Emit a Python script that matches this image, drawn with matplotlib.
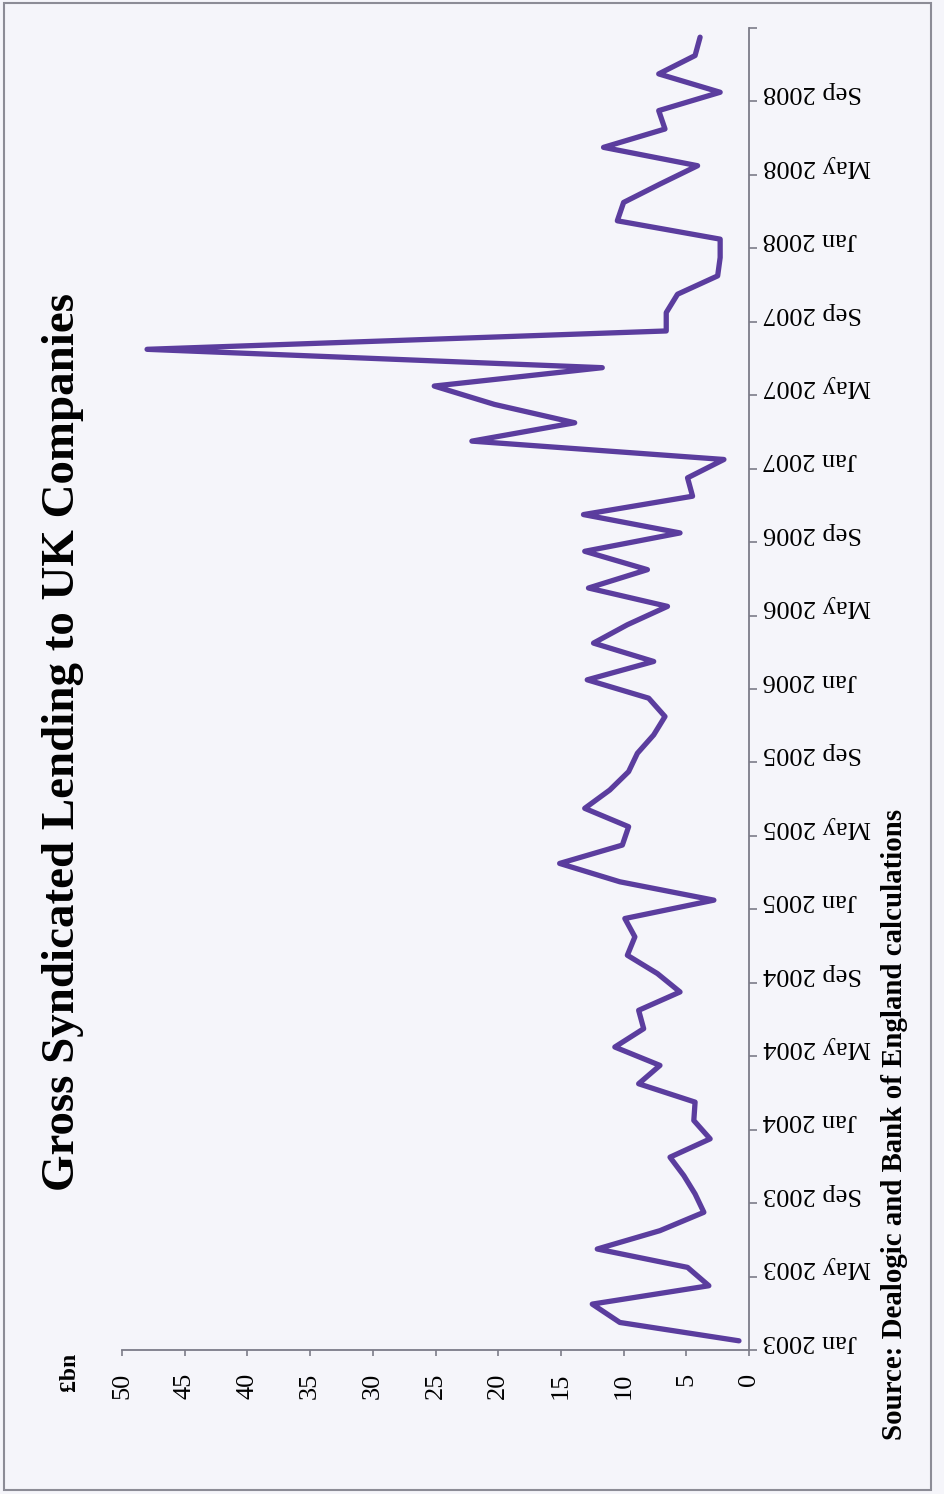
import numpy as np
import matplotlib.pyplot as plt
from matplotlib.patches import Rectangle

plt.rcParams['font.family'] = ['Liberation Serif', 'DejaVu Serif']

#-------------------------------*************Data******************-------------------------------
# monthly gross syndicated lending, Jan 2003 - Dec 2008 (£bn)
years = [2003, 2004, 2005, 2006, 2007, 2008]
tick_months = ['Jan', 'May', 'Sep']
tick_labels = [m + ' ' + str(y) for y in years for m in tick_months]

lending = [0.8, 10.3, 12.5, 3.2, 4.9, 12.1, 7.1, 3.6, 4.3, 5.2, 6.3, 3.1,
           4.4, 4.3, 8.8, 7.1, 10.7, 8.4, 8.8, 5.5, 7.3, 9.7, 9.1, 9.9,
           2.8, 10.3, 15.1, 10.1, 9.6, 13.1, 11.1, 9.6, 8.9, 7.6, 6.7, 8.0,
           12.9, 7.6, 12.4, 9.7, 6.5, 12.8, 8.1, 13.1, 5.5, 13.2, 4.5, 4.9,
           2.0, 22.1, 13.9, 20.3, 25.1, 11.7, 48.0, 6.6, 6.6, 5.7, 2.5, 2.3,
           2.3, 10.5, 10.0, 7.1, 4.1, 11.6, 6.7, 7.2, 2.3, 7.2, 4.3, 3.9]
value_ticks = [0, 5, 10, 15, 20, 25, 30, 35, 40, 45, 50]

#-------------------------------*************Styles******************-------------------------------
W, H = 944, 1494
bg = '#f5f5fa'
line_col = '#5b3d9e'
axis_col = '#7c7c88'

fig = plt.figure(figsize=(W / 100, H / 100), dpi=100, facecolor=bg)

# page frame of the scan
fig.patches.append(Rectangle((4 / W, 1 - 1490 / H), (931 - 4) / W, (1490 - 3) / H,
                             transform=fig.transFigure, fill=False,
                             edgecolor='#8c8c96', lw=1.5))

# the chart is printed sideways: values run right-to-left, months bottom-to-top
ax = fig.add_axes([122 / W, 1 - 1350 / H, (749 - 122) / W, (1350 - 28) / H])
ax.set_facecolor('none')

idx = np.arange(len(lending))
ax.plot(lending, idx, color=line_col, lw=3.8,
        solid_joinstyle='round', solid_capstyle='round')

ax.set_xlim(50, 0)
ax.set_ylim(-0.5, len(lending) - 0.5)

for s in ['top', 'left']:
    ax.spines[s].set_visible(False)
for s in ['bottom', 'right']:
    ax.spines[s].set_color(axis_col)
    ax.spines[s].set_linewidth(1.3)

# value axis
ax.set_xticks(value_ticks)
ax.set_xticklabels([str(v) for v in value_ticks], rotation=90, fontsize=19)
ax.tick_params(axis='x', direction='out', length=4.5, width=1.2,
               color=axis_col, pad=12)

# month axis
ax.yaxis.set_ticks_position('right')
ax.set_yticks(np.arange(-0.5, len(lending), 4))
ax.set_yticklabels([])
ax.set_yticks(np.arange(0, len(lending), 4), tick_labels, minor=True)
ax.tick_params(axis='y', which='major', direction='out', length=6, width=1.2,
               color=axis_col, right=True, left=False, labelright=False)
ax.tick_params(axis='y', which='minor', length=0, pad=10, labelsize=19,
               right=True, left=False, labelright=True, labelleft=False)
for t in ax.get_yticklabels(minor=True):
    t.set_rotation(180)
    t.set_va('center')

#-------------------------------*************Texts******************-------------------------------
fig.text(63 / W, 1 - 742 / H, 'Gross Syndicated Lending to UK Companies',
         rotation=90, ha='center', va='center', fontsize=33.8, fontweight='bold')
fig.text(70 / W, 1 - 1372 / H, '£bn', rotation=90, ha='center', va='center',
         fontsize=17, fontweight='bold')
fig.text(894 / W, 1 - 1440 / H, 'Source: Dealogic and Bank of England calculations',
         rotation=90, ha='center', va='bottom', fontsize=20.8, fontweight='bold')

plt.savefig('out.png', dpi=100, facecolor=bg)
